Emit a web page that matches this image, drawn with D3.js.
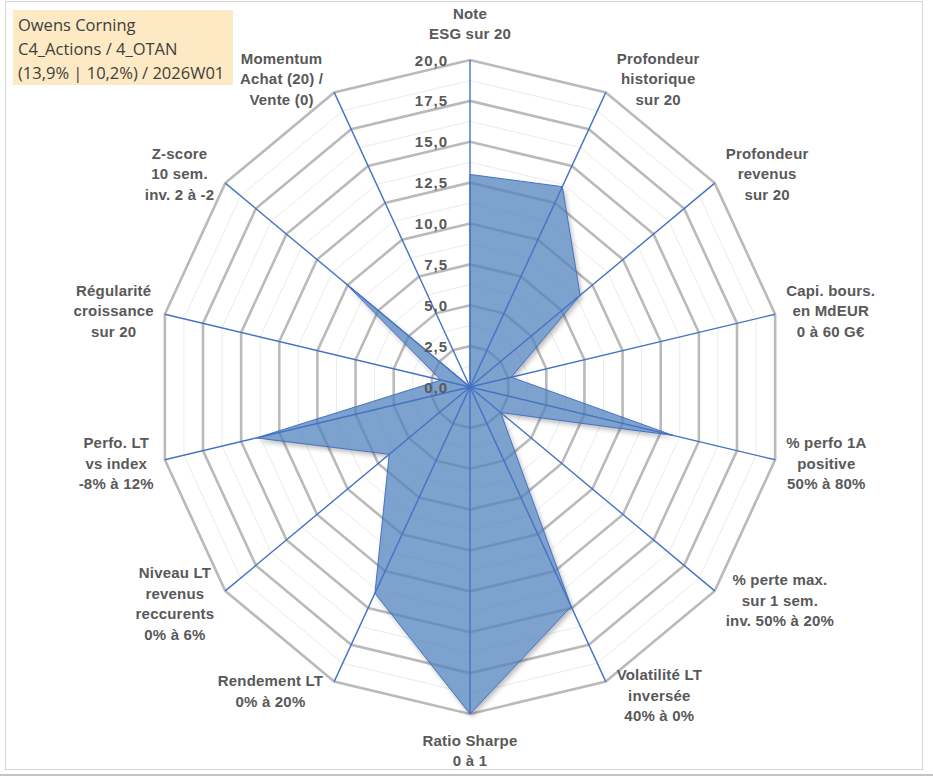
<!DOCTYPE html>
<html>
<head>
<meta charset="utf-8">
<script src="https://cdn.jsdelivr.net/npm/d3@7"></script>
<style>
  body { margin: 0; background: #fff; }
  svg { display: block; }
  .axis-label { font-family: "Liberation Sans", Arial, sans-serif; font-weight: bold; font-size: 15px; fill: #595959; letter-spacing: 0.2px; }
  .tick-label { font-family: "Liberation Sans", Arial, sans-serif; font-weight: bold; font-size: 15px; fill: #595959; letter-spacing: 1px; }
  .title-text { font-family: "Open Sans", sans-serif; font-size: 16.5px; fill: #404040; }
</style>
</head>
<body>
<div id="chart"></div>
<script>
// Axis labels (one entry per spoke, clockwise from top)
const axisLabels = [
    ['Note', 'ESG sur 20'],
    ['Profondeur', 'historique', 'sur 20'],
    ['Profondeur', 'revenus', 'sur 20'],
    ['Capi. bours.', 'en MdEUR', '0 à 60 G€'],
    ['% perfo 1A', 'positive', '50% à 80%'],
    ['% perte max.', 'sur 1 sem.', 'inv. 50% à 20%'],
    ['Volatilité LT', 'inversée', '40% à 0%'],
    ['Ratio Sharpe', '0 à 1'],
    ['Rendement LT', '0% à 20%'],
    ['Niveau LT', 'revenus', 'reccurents', '0% à 6%'],
    ['Perfo. LT', 'vs index', '-8% à 12%'],
    ['Régularité', 'croissance', 'sur 20'],
    ['Z-score', '10 sem.', 'inv. 2 à -2'],
    ['Momentum', 'Achat (20) /', 'Vente (0)']
];

// Scores on a 0-20 scale
const scores = [13.0, 13.6, 9.0, 2.7, 13.3, 2.5, 14.9, 20.0, 14.0, 6.6, 14.0, 1.9, 10.3, 0.0];

// Ring values
const majorTicks = [0, 2.5, 5, 7.5, 10, 12.5, 15, 17.5, 20];
const minorTicks = [1.25, 3.75, 6.25, 8.75, 11.25, 13.75, 16.25, 18.75];

const titleLines = ['Owens Corning', 'C4_Actions / 4_OTAN', '(13,9% | 10,2%) / 2026W01'];

const width = 933;
const height = 776;
const cx = 470;
const cy = 387;

const svg = d3.select('#chart')
    .append('svg')
    .attr('width', width)
    .attr('height', height);

// Chart border
svg.append('rect')
    .attr('x', 5.5).attr('y', 1.5)
    .attr('width', 917).attr('height', 768)
    .attr('fill', 'none')
    .attr('stroke', '#d4d4d4');
svg.append('line')
    .attr('x1', 0).attr('x2', width)
    .attr('y1', 775).attr('y2', 775)
    .attr('stroke', '#8a8a8a');

// Scales: radius (plot is slightly wider than tall in the picture)
const rx = d3.scaleLinear().domain([0, 20]).range([0, 313]);
const ry = d3.scaleLinear().domain([0, 20]).range([0, 327]);
const angle = d3.scaleLinear().domain([0, axisLabels.length]).range([0, 2 * Math.PI]);

function pointAt(i, v) {
    const a = angle(i);
    return [cx + Math.sin(a) * rx(v), cy - Math.cos(a) * ry(v)];
}

const idx = d3.range(axisLabels.length);
const line = d3.line().curve(d3.curveLinearClosed);
const areaPath = line(scores.map((v, i) => pointAt(i, v)));

// Shadow only outside the area, so the translucent fill stays light
const defs = svg.append('defs');
defs.append('filter')
    .attr('id', 'blur')
    .attr('x', '-10%').attr('y', '-10%')
    .attr('width', '120%').attr('height', '120%')
    .append('feGaussianBlur')
    .attr('stdDeviation', 2.5);
const mask = defs.append('mask').attr('id', 'outside');
mask.append('rect').attr('width', width).attr('height', height).attr('fill', '#fff');
mask.append('path').attr('d', areaPath).attr('fill', '#000');

const g = svg.append('g');

// Minor rings
g.selectAll('.minor-ring')
    .data(minorTicks)
    .enter()
    .append('polygon')
    .attr('points', t => idx.map(i => pointAt(i, t).join(',')).join(' '))
    .attr('fill', 'none')
    .attr('stroke', '#ebebeb')
    .attr('stroke-width', 1);

// Major rings
g.selectAll('.major-ring')
    .data(majorTicks.filter(t => t > 0))
    .enter()
    .append('polygon')
    .attr('points', t => idx.map(i => pointAt(i, t).join(',')).join(' '))
    .attr('fill', 'none')
    .attr('stroke', '#bababa')
    .attr('stroke-width', 2.6);

// Series area
g.append('g')
    .attr('mask', 'url(#outside)')
    .append('path')
    .attr('d', areaPath)
    .attr('transform', 'translate(2,3)')
    .attr('fill', '#000')
    .attr('fill-opacity', 0.28)
    .attr('filter', 'url(#blur)');

g.append('path')
    .attr('d', areaPath)
    .attr('fill', '#4f81bd')
    .attr('fill-opacity', 0.74)
    .attr('stroke', '#4472c4')
    .attr('stroke-width', 1);

// Spokes
g.selectAll('.spoke')
    .data(idx)
    .enter()
    .append('line')
    .attr('x1', cx).attr('y1', cy)
    .attr('x2', i => pointAt(i, 20)[0])
    .attr('y2', i => pointAt(i, 20)[1])
    .attr('stroke', '#4472c4')
    .attr('stroke-width', 1.4);

// Tick labels on the top spoke
g.selectAll('.tick-label')
    .data(majorTicks)
    .enter()
    .append('text')
    .attr('class', 'tick-label')
    .attr('x', cx - 22)
    .attr('y', t => pointAt(0, t)[1])
    .attr('text-anchor', 'end')
    .attr('dominant-baseline', 'central')
    .text(t => d3.format('.1f')(t).replace('.', ','));

// Axis labels
const lineH = 20.5;
const labels = g.selectAll('.axis-label')
    .data(idx)
    .enter()
    .append('text')
    .attr('class', 'axis-label')
    .attr('text-anchor', 'middle');

labels.each(function(i) {
    const el = d3.select(this);
    const lines = axisLabels[i];
    lines.forEach(s => el.append('tspan').text(s));
    const w = d3.max(el.selectAll('tspan').nodes(), n => n.getComputedTextLength());
    const h = lines.length * lineH;
    const a = angle(i);
    const [px, py] = pointAt(i, 20);
    let lx, ly;
    if (Math.abs(Math.sin(a)) < 0.1) {
        lx = px;
        ly = py - Math.cos(a) * (h / 2 + 16);
    } else {
        lx = px + Math.sign(Math.sin(a)) * (w / 2 + 11);
        ly = py - Math.cos(a) * h / 4;
    }
    el.selectAll('tspan')
        .attr('x', lx)
        .attr('y', (d, k) => ly - h / 2 + (k + 0.5) * lineH)
        .attr('dominant-baseline', 'central');
});

// Title box
svg.append('rect')
    .attr('x', 13).attr('y', 10)
    .attr('width', 220).attr('height', 75)
    .attr('fill', '#fde9c3');

svg.selectAll('.title-text')
    .data(titleLines)
    .enter()
    .append('text')
    .attr('class', 'title-text')
    .attr('x', 18)
    .attr('y', (d, k) => 24 + k * 24)
    .attr('dominant-baseline', 'central')
    .text(d => d);
</script>
</body>
</html>
